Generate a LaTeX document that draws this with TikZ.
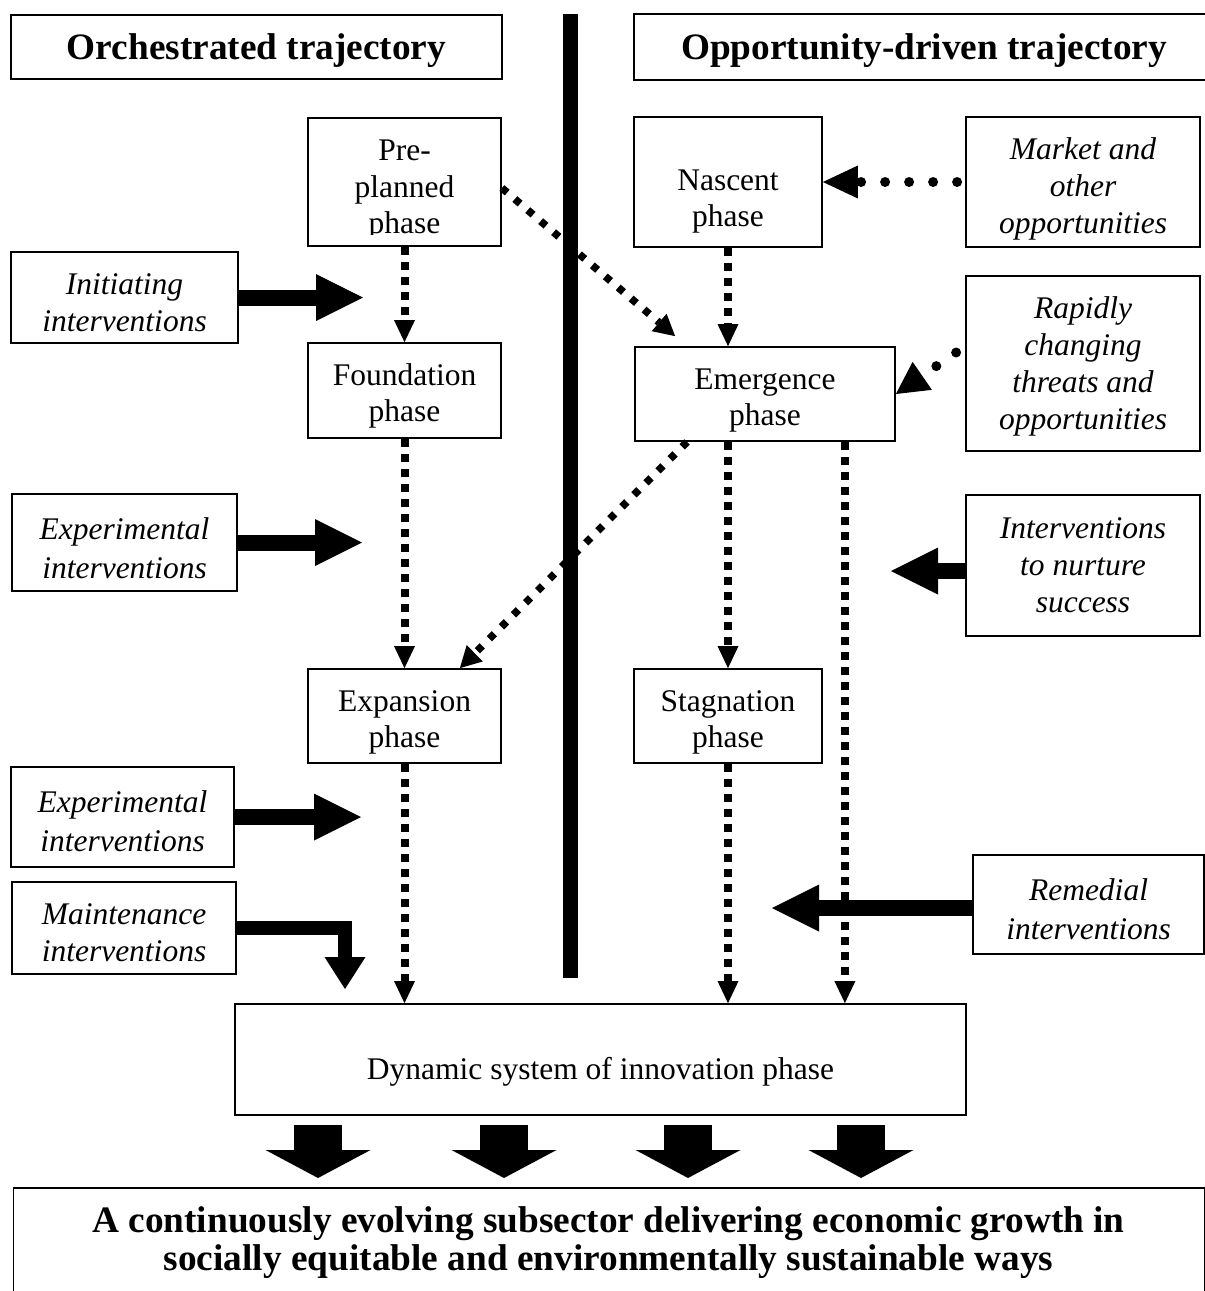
\documentclass[tikz,border=0pt]{standalone}
\usepackage{fontspec}
\setmainfont{Liberation Serif}
\usetikzlibrary{arrows.meta}
\newcommand\tstrut[1]{\rule{0pt}{#1pt}}
\begin{document}
\begin{tikzpicture}[x=1pt,y=-1pt,
  plain/.style={inner sep=0pt, align=center, font=\fontsize{31.5}{36.5}\selectfont},
  box/.style={draw, line width=1.8pt, inner sep=0pt, align=center, font=\fontsize{31.5}{36.5}\selectfont},
  ibox/.style={box, font=\fontsize{31.5}{37}\selectfont\itshape},
  iboxw/.style={box, font=\fontsize{31.5}{39}\selectfont\itshape},
  titlebox/.style={box, font=\fontsize{37.3}{40}\selectfont\bfseries, text height=32pt, text depth=8pt},
  dotarrow/.style={line width=8pt, dash pattern=on 8pt off 7pt, -{Triangle[length=22pt,width=21pt,line width=0pt]}},
  diagarrow/.style={line width=7.5pt, dash pattern=on 7pt off 10pt, -{Triangle[length=21pt,width=23pt,line width=0pt]}},
  rounddots/.style={line width=10pt, line cap=round, dash pattern=on 0pt off 24pt},
  blockarrow/.style={line width=16pt, -{Triangle[length=47pt,width=47pt,line width=0pt]}},
  bigdown/.style={line width=48pt, -{Triangle[length=28pt,width=105pt,line width=0pt]}},
]
\clip (0,0) rectangle (1205,1291);

% titles
\node[titlebox, minimum width=491pt, minimum height=64pt] (tl) at (256.5,47) {Orchestrated trajectory};
\node[titlebox, minimum width=580pt, minimum height=66pt] (tr) at (924,47) {Opportunity-driven trajectory};

% phase boxes
\node[box, minimum width=193pt, minimum height=128pt] (pre) at (404.5,182) {};
\begin{scope}
  \clip (310,120) rectangle (499,234);
  \node[plain] (pretext) at (404.5,190.5) {Pre-\\planned\\phase};
\end{scope}
\node[box, minimum width=193pt, minimum height=95pt] (found) at (404.5,390.5) {\tstrut{33}Foundation\\phase};
\node[box, minimum width=193pt, minimum height=94pt] (exp) at (404.5,716) {\tstrut{34}Expansion\\phase};
\node[box, minimum width=188pt, minimum height=130pt] (nasc) at (728,182) {\tstrut{60}Nascent\\phase};
\node[box, minimum width=260pt, minimum height=94pt] (emer) at (765,394) {\tstrut{34}Emergence\\phase};
\node[box, minimum width=188pt, minimum height=94pt] (stag) at (728,716) {\tstrut{34}Stagnation\\phase};
\node[box, minimum width=731pt, minimum height=111pt, text height=46pt, text depth=7pt] (dyn) at (600.5,1059.5) {Dynamic system of innovation phase};

% intervention / driver boxes
\node[ibox, minimum width=234pt, minimum height=130pt] (market) at (1083,182) {\tstrut{36}Market and\\other\\opportunities};
\node[ibox, minimum width=234pt, minimum height=175pt] (rapid) at (1083,363.5) {\tstrut{28}Rapidly\\changing\\threats and\\opportunities};
\node[ibox, minimum width=234pt, minimum height=141pt] (nurt) at (1083,565.5) {Interventions\\to nurture\\success};
\node[iboxw, minimum width=231pt, minimum height=99pt] (remed) at (1088.5,904.5) {\tstrut{32}Remedial\\interventions};
\node[ibox, minimum width=227pt, minimum height=91pt] (init) at (124.5,297.5) {\tstrut{31}Initiating\\interventions};
\node[iboxw, minimum width=225pt, minimum height=97pt] (expi1) at (124.5,542.5) {\tstrut{33}Experimental\\interventions};
\node[iboxw, minimum width=223pt, minimum height=100pt] (expi2) at (122.5,817) {\tstrut{31}Experimental\\interventions};
\node[ibox, minimum width=224pt, minimum height=92pt] (maint) at (124,928) {\tstrut{30}Maintenance\\interventions};

% goal
\node[box, minimum width=1191.5pt, minimum height=153pt, anchor=north west] (goalbox) at (12.5,1187) {};
\node[plain, font=\fontsize{37.3}{38}\selectfont\bfseries] (goal) at (608.5,1243)
  {A continuously evolving subsector delivering economic growth in\\socially equitable and environmentally sustainable ways};

% free ends
\coordinate (tinit) at (363,297.5);
\coordinate (texpa) at (362,542.5);
\coordinate (texpb) at (361,817);
\coordinate (tmaint) at (345,989);
\coordinate (tnurt) at (891,571);
\coordinate (tremed) at (772,908);
\coordinate (lx) at ([xshift=-51pt]emer.south east);
\coordinate (d1s) at ([yshift=-6pt]pre.east);
\coordinate (d1e) at ([xshift=41pt,yshift=10pt]emer.north west);
\coordinate (d2s) at ([xshift=53pt]emer.south west);
\coordinate (d2e) at ([xshift=-42pt]exp.north east);

% dotted flows
\draw[dotarrow] (pre.south) -- (found.north);
\draw[dotarrow] (found.south) -- (exp.north);
\draw[dotarrow] (exp.south) -- (exp.south |- dyn.north);
\draw[dotarrow] (nasc.south) -- (nasc.south |- emer.north);
\draw[dotarrow] (stag.north |- emer.south) -- (stag.north);
\draw[dotarrow] (stag.south) -- (stag.south |- dyn.north);
\draw[dotarrow] (lx) -- (lx |- dyn.north);
\draw[diagarrow] (d1s) -- (d1e);
\draw[diagarrow] (d2s) -- (d2e);

% round-dotted influences
\draw[rounddots, -{Triangle[length=35pt,width=33pt,line width=0pt]}] ([xshift=-8pt]market.west) -- (nasc.east);
\draw[rounddots, -{Triangle[length=32pt,width=34pt,line width=0pt]}] ([xshift=-9pt,yshift=11pt]rapid.west) -- (emer.east);

% block arrows
\draw[blockarrow] (init.east) -- (tinit);
\draw[blockarrow] (expi1.east) -- (texpa);
\draw[blockarrow] (expi2.east) -- (texpb);
\draw[line width=14pt, line join=miter, -{Triangle[length=32pt,width=41pt,line width=0pt]}] (maint.east) -| (tmaint);
\draw[blockarrow] ([yshift=-5.5pt]nurt.west) -- (tnurt);
\draw[blockarrow] ([yshift=-3.5pt]remed.west) -- (tremed);

\foreach \x [count=\i] in {318,504,688,861} {
  \coordinate (ds\i) at (\x,1125);
  \coordinate (de\i) at (\x,1178);
  \draw[bigdown] (ds\i) -- (de\i);
}

% separator bar
\fill (563,14) rectangle (578,978);
\end{tikzpicture}
\end{document}
